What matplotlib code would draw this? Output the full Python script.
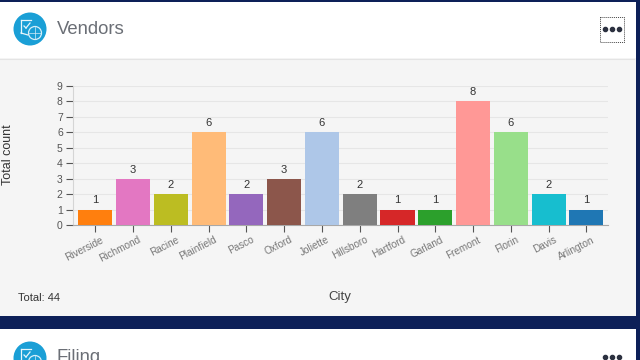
import matplotlib
matplotlib.use("Agg")
import matplotlib.pyplot as plt
from matplotlib.patches import Rectangle, Ellipse
from matplotlib.transforms import Affine2D, ScaledTranslation

plt.rcParams['font.family'] = ['Liberation Sans', 'DejaVu Sans']

cities = ["Riverside", "Richmond", "Racine", "Plainfield", "Pasco", "Oxford", "Joliette",
          "Hillsboro", "Hartford", "Garland", "Fremont", "Florin", "Davis", "Arlington"]
counts = [1, 3, 2, 6, 2, 3, 6, 2, 1, 1, 8, 6, 2, 1]
colors = ["#ff7f0e", "#e377c2", "#bcbd22", "#ffbb78", "#9467bd", "#8c564b", "#aec7e8",
          "#7f7f7f", "#d62728", "#2ca02c", "#ff9896", "#98df8a", "#17becf", "#1f77b4"]
yticks = list(range(10))
title = "Vendors"
next_title = "Filing"
total_label = "Total: 44"

W, H = 640, 360
fig = plt.figure(figsize=(W / 100, H / 100), dpi=100, facecolor="#0d2058")
px = Affine2D().scale(1 / W, -1 / H).translate(0, 1) + fig.transFigure


def rect(x, y, w, h, c):
    fig.add_artist(Rectangle((x, y), w, h, transform=px, facecolor=c, edgecolor="none"))


def line(x0, y0, x1, y1, c, lw=1):
    fig.add_artist(plt.Line2D([x0, x1], [y0, y1], transform=px, color=c, lw=lw))


def ftext(x, y, s, **kw):
    fig.text(x / W, 1 - y / H, s, **kw)


def icon(cx, cy):
    fig.add_artist(Ellipse((cx, cy), 33, 33, transform=px, facecolor="#1a9fd6", edgecolor="none"))
    fig.add_artist(Ellipse((cx + 5, cy + 4), 13, 13, transform=px, facecolor="#1a9fd6",
                           edgecolor="#d5eef8", lw=0.9))
    line(cx - 1, cy + 4, cx + 11, cy + 4, "#d5eef8", 0.5)
    line(cx + 5, cy - 2, cx + 5, cy + 10, "#d5eef8", 0.5)
    line(cx - 9, cy - 9, cx + 1, cy - 9, "#e8f6fb", 0.9)
    line(cx - 9, cy - 9, cx - 9, cy + 4, "#e8f6fb", 0.9)
    line(cx - 9, cy + 4, cx - 2, cy + 6, "#e8f6fb", 0.9)
    line(cx - 6, cy - 3, cx - 4, cy - 1, "#e8f6fb", 0.9)
    line(cx - 4, cy - 1, cx, cy - 6, "#e8f6fb", 0.9)


# top card
rect(0, 2, 636, 56, "#ffffff")
rect(0, 58, 636, 258, "#f5f5f5")
line(0, 58.5, 634, 58.5, "#e4e4e4", 0.8)
# lower card
rect(0, 329, 636, 31, "#ffffff")

icon(30, 29)
icon(30, 358)
ftext(57, 30, title, fontsize=13.3, color="#6b6f76", va="center", ha="left")
ftext(57, 358, next_title, fontsize=13.3, color="#6b6f76", va="center", ha="left")

# menu
fig.add_artist(Rectangle((600, 16.5), 24, 25, transform=px, facecolor="none",
                         edgecolor="#444444", lw=0.7, ls=(0, (1, 1))))
for mx, my in ((604.5, 29), (611.5, 29), (618.5, 29), (604.5, 356.5), (611.5, 356.5), (618.5, 356.5)):
    fig.add_artist(plt.Line2D([mx], [my], transform=px, marker="o", ms=3.0, color="#2c3140", lw=0))

ftext(18, 298, total_label, fontsize=8, color="#333333", va="center", ha="left")
ftext(340, 297, "City", fontsize=9.5, color="#444444", va="center", ha="center")
ftext(8, 155, "Total count", fontsize=9, color="#333333", va="center", ha="center", rotation=90)

# chart axes
left, right, top, bottom = 72.5, 608, 86, 225
ax = fig.add_axes([left / W, 1 - bottom / H, (right - left) / W, (bottom - top) / H], zorder=5)
ax.patch.set_alpha(0)
xpos = list(range(len(cities)))
ax.bar(xpos, counts, width=0.9, color=colors, zorder=3)
ax.set_xlim(-0.6, 13.57)
ax.set_ylim(0, 9)
ax.set_yticks(yticks)
ax.set_xticks(xpos)
ax.set_xticklabels(cities, rotation=27, ha="right", rotation_mode="anchor",
                   fontsize=7.2, color="#777777")
ax.tick_params(axis="x", length=5, width=0.8, color="#555555", pad=2)
ax.tick_params(axis="y", length=5, width=0.8, color="#555555", labelsize=7.5, labelcolor="#555555", pad=2)
shift = ScaledTranslation(5 / 100, 0, fig.dpi_scale_trans)
for lab in ax.get_xticklabels():
    lab.set_transform(lab.get_transform() + shift)
ax.grid(axis="y", color="#e6e6e6", lw=0.8, zorder=0)
ax.set_axisbelow(True)
for s in ("top", "right"):
    ax.spines[s].set_visible(False)
ax.spines["left"].set_color("#d5d5d5")
ax.spines["bottom"].set_color("#a8a8a8")
for x, v in zip(xpos, counts):
    ax.annotate(str(v), (x, v), xytext=(0, 3), textcoords="offset points", ha="center", va="bottom",
                fontsize=8, color="#333333", zorder=4)

fig.savefig("out.png", dpi=100, facecolor=fig.get_facecolor())
